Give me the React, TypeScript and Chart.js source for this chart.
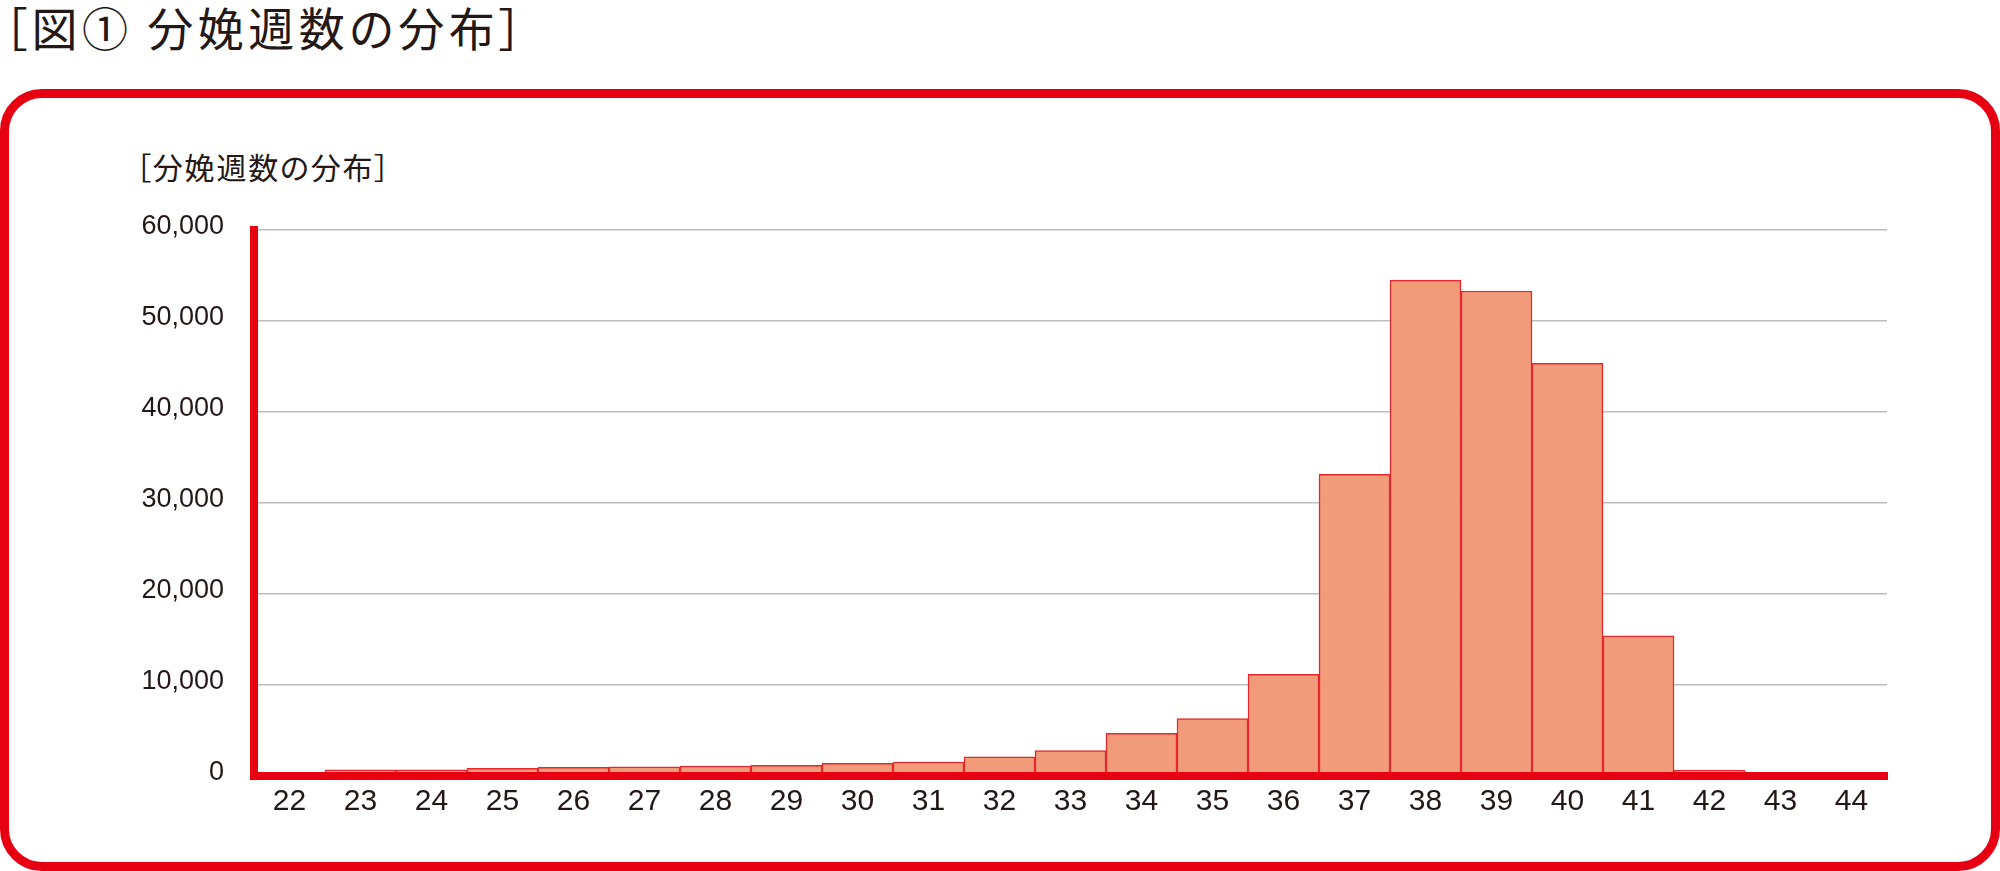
import React, { useEffect, useRef } from 'react';
import { Chart, registerables } from 'chart.js';

Chart.register(...registerables);

const weeks = ['22', '23', '24', '25', '26', '27', '28', '29', '30', '31', '32', '33', '34', '35', '36', '37', '38', '39', '40', '41', '42', '43', '44'];
const births = [300, 690, 690, 840, 950, 1020, 1100, 1180, 1400, 1540, 2120, 2780, 4690, 6300, 11180, 33150, 54500, 53300, 45350, 15400, 660, 40, 15];
const yMin = 0;
const yMax = 60000;
const yStep = 10000;

const RED = '#E60012';
const TEXT = '#231815';

export default function App() {
  const canvasRef = useRef<HTMLCanvasElement | null>(null);

  useEffect(() => {
    document.body.style.margin = '0';
    const canvas = canvasRef.current;
    if (!canvas) return;
    const chart = new Chart(canvas, {
      type: 'bar',
      data: {
        labels: weeks,
        datasets: [
          {
            data: births,
            backgroundColor: '#F19B79',
            borderColor: '#E8262D',
            borderWidth: 1.5,
            borderSkipped: 'start',
            barPercentage: 1,
            categoryPercentage: 1,
          },
        ],
      },
      options: {
        responsive: false,
        devicePixelRatio: 1,
        animation: false,
        layout: { padding: { left: 0, right: 113, top: 230, bottom: 0 } },
        plugins: {
          legend: { display: false },
          tooltip: { enabled: false },
          title: { display: false },
        },
        scales: {
          x: {
            afterFit: (s: any) => {
              s.height = 95;
            },
            grid: { display: false, drawTicks: false },
            border: { display: true, color: RED, width: 8, z: 1 },
            ticks: {
              color: TEXT,
              padding: 8,
              font: { family: '"Liberation Sans", Arial, sans-serif', size: 30 },
              maxRotation: 0,
              autoSkip: false,
            },
          },
          y: {
            min: yMin,
            max: yMax,
            afterFit: (s: any) => {
              s.width = 254;
            },
            grid: { color: '#BDBDBD', lineWidth: 1.5, drawTicks: false },
            border: { display: true, color: RED, width: 8, z: 1 },
            ticks: {
              stepSize: yStep,
              color: TEXT,
              padding: 30,
              labelOffset: -3,
              font: { family: '"Liberation Sans", Arial, sans-serif', size: 27 },
              callback: (v: any) => Number(v).toLocaleString('en-US'),
            },
          },
        },
      },
    });
    return () => chart.destroy();
  }, []);

  return (
    <div style={{ position: 'relative', width: 2000, height: 871, background: '#fff', overflow: 'hidden' }}>
      <div
        style={{
          position: 'absolute',
          left: 4,
          top: 0,
          fontFamily: '"Noto Sans CJK JP", sans-serif',
          fontSize: 46,
          lineHeight: '52px',
          letterSpacing: 4.5,
          color: TEXT,
          fontFeatureSettings: '"palt"',
          whiteSpace: 'nowrap',
        }}
      >
        ［図① 分娩週数の分布］
      </div>
      <div
        style={{
          position: 'absolute',
          left: 0,
          top: 89,
          width: 2000,
          height: 782,
          boxSizing: 'border-box',
          border: `9px solid ${RED}`,
          borderRadius: 42,
        }}
      />
      <div
        style={{
          position: 'absolute',
          left: 136,
          top: 146,
          fontFamily: '"Noto Sans CJK JP", sans-serif',
          fontSize: 30,
          lineHeight: '40px',
          letterSpacing: 1.8,
          color: TEXT,
          fontFeatureSettings: '"palt"',
          whiteSpace: 'nowrap',
        }}
      >
        ［分娩週数の分布］
      </div>
      <canvas
        ref={canvasRef}
        width={2000}
        height={871}
        style={{ position: 'absolute', left: 0, top: 0, width: 2000, height: 871 }}
      />
    </div>
  );
}
